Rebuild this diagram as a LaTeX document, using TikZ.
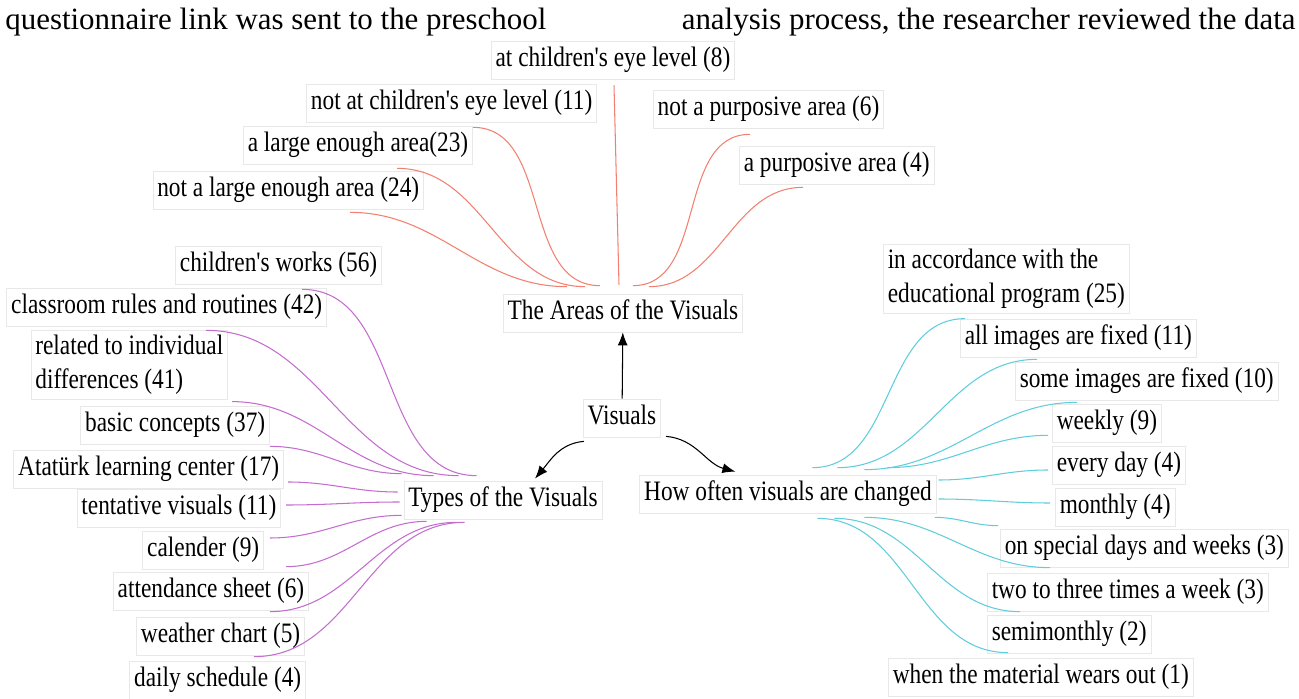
\documentclass[tikz,border=0pt]{standalone}
\usepackage{fontspec}
\setmainfont{Liberation Serif}
\newfontfamily\mapfont{Liberation Serif}[FakeStretch=0.83]
\newfontfamily\pagefont{Liberation Serif}
\usetikzlibrary{arrows.meta, calc}
\definecolor{areared}{RGB}{242,128,112}
\definecolor{typepurple}{RGB}{196,108,208}
\definecolor{oftencyan}{RGB}{95,205,220}

\begin{document}
\begin{tikzpicture}[x=0.02cm, y=-0.02cm, box/.style={draw=black!9, fill=white, inner xsep=2.5pt, inner ysep=0pt, text height=11.6pt, text depth=3.8pt, minimum height=0.76cm, font=\mapfont\fontsize{16}{18}\selectfont}, box2/.style={draw=black!9, fill=white, inner xsep=2.5pt, inner ysep=2.5pt, align=left, font=\mapfont\fontsize{16}{19.5}\selectfont}, pagetext/.style={inner sep=0pt, font=\pagefont\fontsize{17.6}{20}\selectfont}, arrow/.style={-{Latex[length=2.6mm, width=2mm]}, line width=0.6pt}, arealink/.style={draw=areared, line width=0.6pt}, typelink/.style={draw=typepurple, line width=0.6pt}, oftenlink/.style={draw=oftencyan, line width=0.6pt}]
\useasboundingbox (0,0) rectangle (1299,699);

% text of the page above the figure
\node[pagetext, anchor=base west] (pageleft) at (5,30) {questionnaire link was sent to the preschool};
\node[pagetext, anchor=base east] (pageright) at (1296,30) {analysis process, the researcher reviewed the data};

% centre
\node[box] (visuals) at (622,418) {Visuals};
\node[box] (areas) at (623,313) {The Areas of the Visuals};
\node[box] (types) at (503,500) {Types of the Visuals};
\node[box] (often) at (788,494) {How often visuals are changed};
\draw[arrow](visuals)--(areas);
\draw[arrow]($(visuals.south west)+(1,4)$) to[out=185,in=50] ($(types.north)+(32,-2)$);
\draw[arrow]($(visuals.south east)+(5,-1)$) to[out=-5,in=165] ($(often.north west)+(96,-3)$);

% the areas of the visuals
\node[box] (eyelevel) at (613,60) {at children's eye level (8)};
\node[box, anchor=east] (noteyelevel) at (597,103) {not at children's eye level (11)};
\node[box, anchor=east] (largearea) at (473,145) {a large enough area(23)};
\node[box, anchor=east] (notlargearea) at (424,190) {not a large enough area (24)};
\node[box, anchor=west] (notpurposive) at (653,109) {not a purposive area (6)};
\node[box, anchor=west] (purposive) at (739,165) {a purposive area (4)};
\draw[arealink]($(notlargearea.south east)+(-74,3)$) to[out=0,in=180] ($(areas.north west)+(64,-7)$);
\draw[arealink]($(largearea.south east)+(-76,4)$) to[out=0,in=180] ($(areas.north west)+(82,-7)$);
\draw[arealink]($(noteyelevel.south east)+(-124,5)$) to[out=0,in=180] ($(areas.north west)+(97,-8)$);
\draw[arealink]($(eyelevel.south)+(1,6)$) -- ($(areas.north)+(-4,-9)$);
\draw[arealink]($(areas.north west)+(130,-8)$) to[out=0,in=180] ($(notpurposive.south west)+(97,6)$);
\draw[arealink]($(areas.north west)+(146,-7)$) to[out=0,in=180] ($(purposive.south west)+(64,3)$);

% types of the visuals
\node[box, anchor=east] (works) at (382,265) {children's works (56)};
\node[box, anchor=east] (rules) at (327,307) {classroom rules and routines (42)};
\node[box2, anchor=east] (individual) at (228,365) {related to individual\\differences (41)};
\node[box, anchor=east] (concepts) at (270,425) {basic concepts (37)};
\node[box, anchor=east] (ataturk) at (284,469) {Atatürk learning center (17)};
\node[box, anchor=east] (tentative) at (281,508) {tentative visuals (11)};
\node[box, anchor=east] (calender) at (264,550) {calender (9)};
\node[box, anchor=east] (attendance) at (309,591) {attendance sheet (6)};
\node[box, anchor=east] (weather) at (305,636) {weather chart (5)};
\node[box, anchor=east] (schedule) at (306,680) {daily schedule (4)};
\draw[typelink]($(works.south east)+(-80,5)$) to[out=0,in=180] ($(types.north west)+(73,-5)$);
\draw[typelink]($(rules.south east)+(-121,4)$) to[out=0,in=180] ($(types.north west)+(55,-5)$);
\draw[typelink]($(individual.south east)+(4,2)$) to[out=0,in=180] ($(types.north west)+(30,-5)$);
\draw[typelink]($(concepts.south east)+(0,2)$) to[out=0,in=180] ($(types.north west)+(-2,-7)$);
\draw[typelink]($(ataturk.east)+(4,13)$) to[out=0,in=180] ($(types.west)+(-6,-8)$);
\draw[typelink]($(tentative.east)+(5,-3)$) to[out=0,in=180] ($(types.west)+(-4,2)$);
\draw[typelink]($(calender.east)+(6,-12)$) to[out=0,in=180] ($(types.south west)+(-2,-4)$);
\draw[typelink]($(attendance.north east)+(-23,-5)$) to[out=0,in=180] ($(types.south west)+(23,2)$);
\draw[typelink]($(weather.north east)+(-35,-5)$) to[out=0,in=180] ($(types.south west)+(53,3)$);
\draw[typelink]($(schedule.north east)+(-52,-4)$) to[out=0,in=180] ($(types.south west)+(61,3)$);

% how often visuals are changed
\node[box2, anchor=west] (program) at (883,279) {in accordance with the\\educational program (25)};
\node[box, anchor=west] (allfixed) at (960,338) {all images are fixed (11)};
\node[box, anchor=west] (somefixed) at (1015,381) {some images are fixed (10)};
\node[box, anchor=west] (weekly) at (1052,423) {weekly (9)};
\node[box, anchor=west] (everyday) at (1052,465) {every day (4)};
\node[box, anchor=west] (monthly) at (1055,507) {monthly (4)};
\node[box, anchor=west] (special) at (1000,548) {on special days and weeks (3)};
\node[box, anchor=west] (twothree) at (987,592) {two to three times a week (3)};
\node[box, anchor=west] (semimonthly) at (987,634) {semimonthly (2)};
\node[box, anchor=west] (wearsout) at (888,677) {when the material wears out (1)};
\draw[oftenlink]($(often.north west)+(173,-7)$) to[out=0,in=180] ($(program.south west)+(82,5)$);
\draw[oftenlink]($(often.north west)+(198,-7)$) to[out=0,in=180] ($(allfixed.south west)+(77,2)$);
\draw[oftenlink]($(often.north west)+(225,-5)$) to[out=0,in=180] ($(somefixed.south west)+(62,2)$);
\draw[oftenlink]($(often.north west)+(248,-7)$) to[out=0,in=180] ($(weekly.south west)+(-4,-7)$);
\draw[oftenlink]($(often.east)+(2,-14)$) to[out=0,in=180] ($(everyday.west)+(-4,5)$);
\draw[oftenlink]($(often.east)+(2,5)$) to[out=0,in=180] ($(monthly.west)+(-5,-4)$);
\draw[oftenlink]($(often.south east)+(-2,4)$) to[out=0,in=180] ($(special.north west)+(-2,-3)$);
\draw[oftenlink]($(often.south west)+(225,4)$) to[out=0,in=180] ($(twothree.north west)+(63,-5)$);
\draw[oftenlink]($(often.south west)+(195,5)$) to[out=0,in=180] ($(semimonthly.north west)+(33,-3)$);
\draw[oftenlink]($(often.south west)+(178,5)$) to[out=0,in=180] ($(wearsout.north west)+(120,-5)$);

\end{tikzpicture}
\end{document}
